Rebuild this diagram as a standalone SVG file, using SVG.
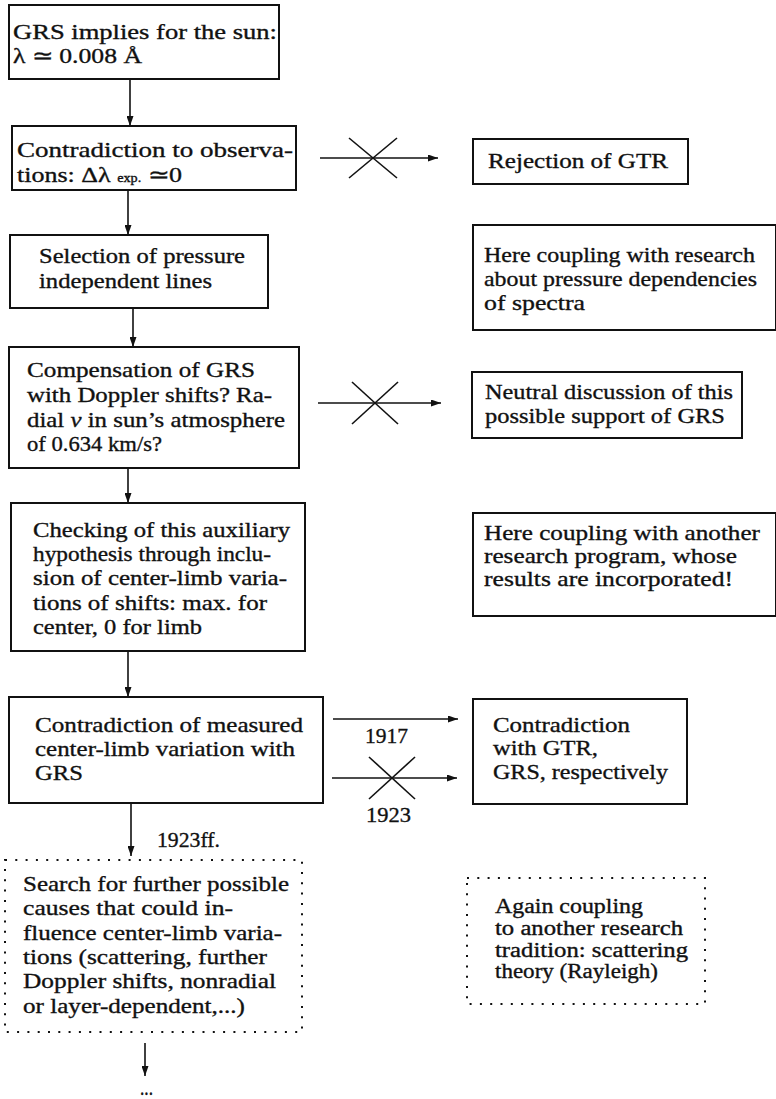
<svg xmlns="http://www.w3.org/2000/svg" width="776" height="1099" viewBox="0 0 776 1099">
<style>
.box{fill:none;stroke:#111;stroke-width:2}
.dotbox{fill:none;stroke:#111;stroke-width:2;stroke-dasharray:2 8.3}
.t{font-family:"Liberation Serif","Times New Roman",serif;font-size:22px;fill:#111;stroke:#111;stroke-width:0.35}
.s{font-size:20.5px}
.conn line{stroke:#111;stroke-width:1.6}
.arr{marker-end:url(#ah)}
</style>
<defs>
<marker id="ah" viewBox="0 0 10 7" refX="10" refY="3.5" markerWidth="10" markerHeight="7" markerUnits="userSpaceOnUse" orient="auto">
<path d="M0,0 L10,3.5 L0,7 z" fill="#111"/>
</marker>
</defs>
<rect width="776" height="1099" fill="#fff"/>

<g id="connectors" class="conn">
<line class="arr" x1="130" y1="79" x2="130" y2="126"/>
<line class="arr" x1="128" y1="190" x2="128" y2="235"/>
<line class="arr" x1="133" y1="308" x2="133" y2="347"/>
<line class="arr" x1="128" y1="468" x2="128" y2="503"/>
<line class="arr" x1="128" y1="651" x2="128" y2="697"/>
<line class="arr" x1="131" y1="803" x2="131" y2="856"/>
<line class="arr" x1="145" y1="1043" x2="145" y2="1076"/>
<line class="arr" x1="320" y1="158" x2="438" y2="158"/>
<line x1="349" y1="138" x2="397" y2="178"/>
<line x1="397" y1="138" x2="349" y2="178"/>
<line class="arr" x1="318" y1="403" x2="441" y2="403"/>
<line x1="352" y1="382" x2="398" y2="424"/>
<line x1="398" y1="382" x2="352" y2="424"/>
<line class="arr" x1="333" y1="719" x2="458" y2="719"/>
<line class="arr" x1="332" y1="778" x2="457" y2="778"/>
<line x1="369" y1="757" x2="415" y2="799"/>
<line x1="415" y1="757" x2="369" y2="799"/>
<text class="t" x="365" y="743" textLength="43" lengthAdjust="spacingAndGlyphs">1917</text>
<text class="t" x="366" y="822" textLength="45" lengthAdjust="spacingAndGlyphs">1923</text>
<text class="t" x="157" y="847" textLength="63" lengthAdjust="spacingAndGlyphs">1923ff.</text>
<text class="t" x="140" y="1095" textLength="13" lengthAdjust="spacingAndGlyphs">...</text>
</g>

<g id="n1">
<rect class="box" x="9" y="5" width="270" height="74"/>
<text class="t" x="13" y="39" textLength="264" lengthAdjust="spacingAndGlyphs">GRS implies for the sun:</text>
<text class="t" x="13" y="63" textLength="129" lengthAdjust="spacingAndGlyphs">λ ≃ 0.008 Å</text>
</g>

<g id="n2">
<rect class="box" x="12" y="126" width="284" height="64"/>
<text class="t" x="17" y="157" textLength="276" lengthAdjust="spacingAndGlyphs">Contradiction to observa-</text>
<text class="t" x="17" y="182" textLength="165" lengthAdjust="spacingAndGlyphs">tions: Δλ <tspan font-size="12">exp.</tspan> ≃0</text>
</g>

<g id="n3">
<rect class="box" x="10" y="235" width="258" height="73"/>
<text class="t" x="39" y="263" textLength="206" lengthAdjust="spacingAndGlyphs">Selection of pressure</text>
<text class="t" x="39" y="288" textLength="173" lengthAdjust="spacingAndGlyphs">independent lines</text>
</g>

<g id="n4">
<rect class="box" x="9" y="347" width="290" height="121"/>
<text class="t" x="27" y="377" textLength="228" lengthAdjust="spacingAndGlyphs">Compensation of GRS</text>
<text class="t" x="27" y="402" textLength="245" lengthAdjust="spacingAndGlyphs">with Doppler shifts? Ra-</text>
<text class="t" x="27" y="427" textLength="258" lengthAdjust="spacingAndGlyphs">dial <tspan font-style="italic">v</tspan> in sun’s atmosphere</text>
<text class="t" x="27" y="451" textLength="135" lengthAdjust="spacingAndGlyphs">of 0.634 km/s?</text>
</g>

<g id="n5">
<rect class="box" x="11" y="503" width="294" height="148"/>
<text class="t" x="33" y="537" textLength="257" lengthAdjust="spacingAndGlyphs">Checking of this auxiliary</text>
<text class="t" x="33" y="561" textLength="238" lengthAdjust="spacingAndGlyphs">hypothesis through inclu-</text>
<text class="t" x="33" y="585" textLength="254" lengthAdjust="spacingAndGlyphs">sion of center-limb varia-</text>
<text class="t" x="33" y="610" textLength="234" lengthAdjust="spacingAndGlyphs">tions of shifts: max. for</text>
<text class="t" x="33" y="634" textLength="169" lengthAdjust="spacingAndGlyphs">center, 0 for limb</text>
</g>

<g id="n6">
<rect class="box" x="9" y="697" width="314" height="106"/>
<text class="t" x="35" y="732" textLength="268" lengthAdjust="spacingAndGlyphs">Contradiction of measured</text>
<text class="t" x="35" y="756" textLength="260" lengthAdjust="spacingAndGlyphs">center-limb variation with</text>
<text class="t" x="35" y="780" textLength="48" lengthAdjust="spacingAndGlyphs">GRS</text>
</g>

<g id="n7">
<rect class="dotbox" x="5" y="860" width="297" height="172"/>
<text class="t" x="23" y="891" textLength="266" lengthAdjust="spacingAndGlyphs">Search for further possible</text>
<text class="t" x="23" y="915" textLength="210" lengthAdjust="spacingAndGlyphs">causes that could in-</text>
<text class="t" x="23" y="940" textLength="259" lengthAdjust="spacingAndGlyphs">fluence center-limb varia-</text>
<text class="t" x="23" y="964" textLength="244" lengthAdjust="spacingAndGlyphs">tions (scattering, further</text>
<text class="t" x="23" y="988" textLength="253" lengthAdjust="spacingAndGlyphs">Doppler shifts, nonradial</text>
<text class="t" x="23" y="1013" textLength="222" lengthAdjust="spacingAndGlyphs">or layer-dependent,...)</text>
</g>

<g id="r1">
<rect class="box" x="473" y="139" width="215" height="45"/>
<text class="t" x="488" y="168" textLength="180" lengthAdjust="spacingAndGlyphs">Rejection of GTR</text>
</g>

<g id="r2">
<rect class="box" x="473" y="225" width="303" height="105"/>
<text class="t" x="484" y="262" textLength="271" lengthAdjust="spacingAndGlyphs">Here coupling with research</text>
<text class="t" x="484" y="286" textLength="273" lengthAdjust="spacingAndGlyphs">about pressure dependencies</text>
<text class="t" x="484" y="310" textLength="101" lengthAdjust="spacingAndGlyphs">of spectra</text>
</g>

<g id="r3">
<rect class="box" x="472" y="372" width="270" height="66"/>
<text class="t" x="485" y="399" textLength="248" lengthAdjust="spacingAndGlyphs">Neutral discussion of this</text>
<text class="t" x="485" y="423" textLength="240" lengthAdjust="spacingAndGlyphs">possible support of GRS</text>
</g>

<g id="r4">
<rect class="box" x="473" y="513" width="303" height="103"/>
<text class="t" x="484" y="540" textLength="276" lengthAdjust="spacingAndGlyphs">Here coupling with another</text>
<text class="t" x="484" y="563" textLength="253" lengthAdjust="spacingAndGlyphs">research program, whose</text>
<text class="t" x="484" y="586" textLength="249" lengthAdjust="spacingAndGlyphs">results are incorporated!</text>
</g>

<g id="r5">
<rect class="box" x="473" y="699" width="214" height="105"/>
<text class="t" x="493" y="732" textLength="137" lengthAdjust="spacingAndGlyphs">Contradiction</text>
<text class="t" x="493" y="755" textLength="105" lengthAdjust="spacingAndGlyphs">with GTR,</text>
<text class="t" x="493" y="779" textLength="175" lengthAdjust="spacingAndGlyphs">GRS, respectively</text>
</g>

<g id="r6">
<rect class="dotbox" x="467" y="878" width="238" height="126"/>
<text class="t s" x="495" y="913" textLength="148" lengthAdjust="spacingAndGlyphs">Again coupling</text>
<text class="t s" x="495" y="935" textLength="188" lengthAdjust="spacingAndGlyphs">to another research</text>
<text class="t s" x="495" y="957" textLength="193" lengthAdjust="spacingAndGlyphs">tradition: scattering</text>
<text class="t s" x="495" y="978" textLength="163" lengthAdjust="spacingAndGlyphs">theory (Rayleigh)</text>
</g>
</svg>
